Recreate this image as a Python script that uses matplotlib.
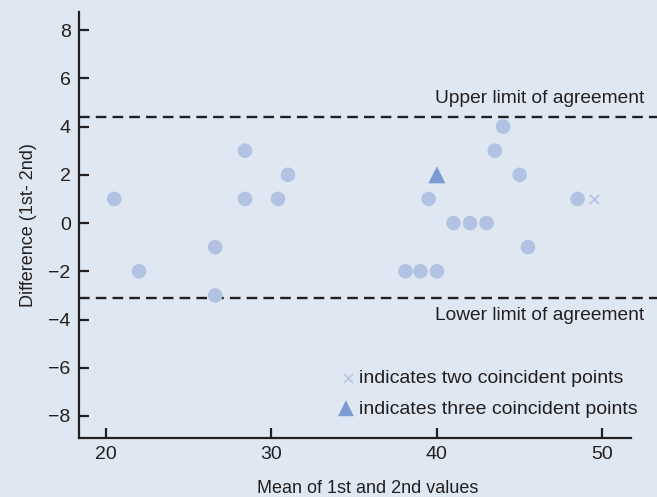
import matplotlib
matplotlib.use("Agg")
import matplotlib.pyplot as plt
import numpy as np

plt.rcParams['font.family'] = ['Liberation Sans Narrow', 'Liberation Sans', 'DejaVu Sans']

# Bland-Altman data: mean of 1st and 2nd values vs difference
mean_vals = [20.5, 22.0, 26.6, 26.6, 28.4, 28.4, 30.4, 31.0,
             38.1, 39.0, 40.0, 39.5, 41.0, 42.0, 43.0, 43.5, 44.0, 45.0, 45.5, 48.5]
diff_vals = [1, -2, -1, -3, 3, 1, 1, 2,
             -2, -2, -2, 1, 0, 0, 0, 3, 4, 2, -1, 1]
two_coincident = ([49.5], [1])
three_coincident = ([40.0], [2])
upper_loa = 4.4
lower_loa = -3.1

bg = '#dfe7f3'
pt_col = '#b1c2e3'
tri_col = '#7d9ad2'
ink = '#231f20'

fig = plt.figure(figsize=(6.57, 4.97), dpi=100, facecolor=bg)
ax = fig.add_axes([79/657, 1 - 437.7/497, (657 - 79)/657, (437.7 - 12)/497])
ax.set_facecolor(bg)

ax.scatter(mean_vals, diff_vals, s=110, color=pt_col, edgecolors='none', zorder=3)
ax.scatter(*three_coincident, marker='^', s=150, color=tri_col, edgecolors='none', zorder=3)
ax.scatter(*two_coincident, marker='x', s=45, color=pt_col, linewidths=1.2, zorder=3)

for lim in (upper_loa, lower_loa):
    ax.axhline(lim, color=ink, lw=1.7, dashes=(4.5, 2.6), zorder=2)

ax.text(52.55, upper_loa + 0.4, 'Upper limit of agreement', ha='right', va='bottom',
        fontsize=13.8, color=ink)
ax.text(52.55, lower_loa - 0.4, 'Lower limit of agreement', ha='right', va='top',
        fontsize=13.8, color=ink)

# legend notes
ax.scatter([34.6], [-6.43], marker='x', s=40, color=pt_col, linewidths=1.0, clip_on=False)
ax.text(35.3, -6.43, 'indicates two coincident points', ha='left', va='center',
        fontsize=14, color=ink)
ax.scatter([34.5], [-7.68], marker='^', s=130, color=tri_col, edgecolors='none', clip_on=False)
ax.text(35.3, -7.72, 'indicates three coincident points', ha='left', va='center',
        fontsize=14, color=ink)

ax.set_xlim(18.37, 53.3)
ax.set_ylim(-8.9, 8.75)
ax.set_xticks([20, 30, 40, 50])
ax.set_yticks([-8, -6, -4, -2, 0, 2, 4, 6, 8])
ax.set_yticklabels(['\u22128', '\u22126', '\u22124', '\u22122', '0', '2', '4', '6', '8'])

for s in ('top', 'right'):
    ax.spines[s].set_visible(False)
for s in ('left', 'bottom'):
    ax.spines[s].set_linewidth(1.6)
    ax.spines[s].set_color(ink)
ax.spines['bottom'].set_bounds(18.37, 51.7)
ax.tick_params(direction='in', length=7, width=1.6, color=ink, labelsize=14,
               labelcolor=ink, pad=6)

ax.set_xlabel('Mean of 1st and 2nd values', fontsize=13, color=ink, labelpad=12)
ax.set_ylabel('Difference (1st- 2nd)', fontsize=13, color=ink, labelpad=8)

fig.savefig('out.png', dpi=100, facecolor=bg)
